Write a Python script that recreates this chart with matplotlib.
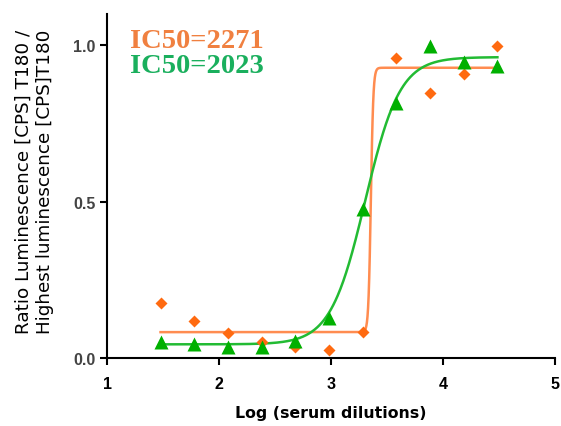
# Dose-response curves, two sera, with IC50 labels
import numpy as np
import matplotlib.pyplot as plt

log_dil = [1.477, 1.778, 2.079, 2.380, 2.681, 2.982, 3.283, 3.584, 3.885, 4.186, 4.487]
orange_y = [0.177, 0.119, 0.079, 0.052, 0.034, 0.025, 0.085, 0.958, 0.846, 0.908, 0.997]
green_y = [0.052, 0.045, 0.036, 0.036, 0.055, 0.127, 0.478, 0.816, 0.997, 0.945, 0.934]

# fitted curve parameters (bottom, top, log IC50, hill slope)
orange_fit = (0.083, 0.928, np.log10(2271), 40.0)
green_fit = (0.044, 0.962, np.log10(2023), 2.8)

ORANGE_PT = '#ff6a10'
ORANGE_LN = '#ff8c50'
GREEN_PT = '#00b000'
GREEN_LN = '#22bb33'


def logistic(x, bottom, top, logc, h):
    return bottom + (top - bottom) / (1 + 10 ** ((logc - x) * h))


fig = plt.figure(figsize=(5.61, 4.27), dpi=100)
ax = fig.add_axes([0.191, 0.159, 0.798, 0.806])

xs = np.linspace(log_dil[0], log_dil[-1], 600)
ax.plot(xs, logistic(xs, *orange_fit), color=ORANGE_LN, lw=1.8)
ax.plot(xs, logistic(xs, *green_fit), color=GREEN_LN, lw=1.8)
ax.plot(log_dil, orange_y, 'D', color=ORANGE_PT, ms=6.5, mec='none', clip_on=False)
ax.plot(log_dil, green_y, '^', color=GREEN_PT, ms=9.5, mec='none', clip_on=False)

ax.set_xlim(1, 5)
ax.set_ylim(0, 1.1)
ax.set_xticks([1, 2, 3, 4, 5])
ax.set_yticks([0.0, 0.5, 1.0])
ax.set_yticklabels(['0.0', '0.5', '1.0'])
for s in ['top', 'right']:
    ax.spines[s].set_visible(False)
for s in ['left', 'bottom']:
    ax.spines[s].set_linewidth(1.5)
ax.tick_params(width=1.5, length=5, labelsize=11.5, colors='black')
ax.tick_params(axis='x', pad=8)
for lab in ax.get_xticklabels() + ax.get_yticklabels():
    lab.set_fontweight('bold')
    lab.set_fontfamily('Liberation Sans')
for lab in ax.get_yticklabels():
    lab.set_color('#444444')

ax.set_xlabel('Log (serum dilutions)', fontsize=11.3, fontweight='bold',
              family='DejaVu Sans', labelpad=10)
ax.set_ylabel('Ratio Luminescence [CPS] T180 /\nHighest luminescence [CPS]T180',
              fontsize=13.2, family='DejaVu Sans', linespacing=1.2)
ax.yaxis.label.set_va('center')
ax.yaxis.set_label_coords(-0.162, 0.515)

ax.text(0.051, 0.958, 'IC50=2271', transform=ax.transAxes, color='#f08040',
        fontsize=20.5, fontweight='bold', family='Liberation Serif', va='top')
ax.text(0.051, 0.886, 'IC50=2023', transform=ax.transAxes, color='#1aaf5d',
        fontsize=20.5, fontweight='bold', family='Liberation Serif', va='top')

fig.savefig('out.png', dpi=100)
